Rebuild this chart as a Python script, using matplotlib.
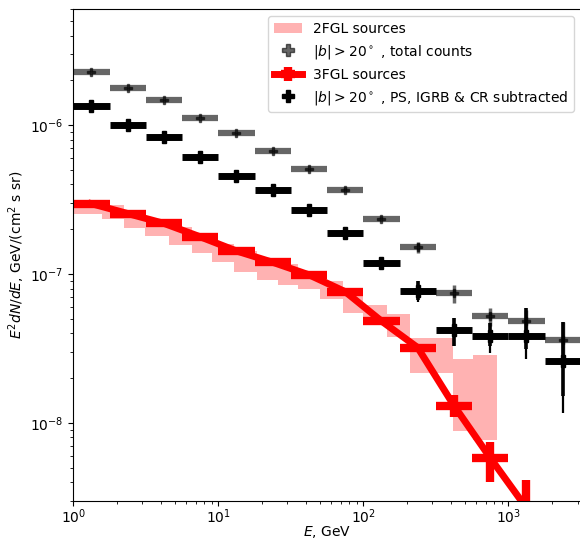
import numpy as np
import matplotlib
matplotlib.use("Agg")
import matplotlib.pyplot as plt

# energy binning of the |b|>20 and 3FGL points (GeV)
e_edges = [1.0, 1.778, 3.162, 5.623, 10.0, 17.78, 31.62, 56.23, 100.0, 177.8, 316.2, 562.3, 1000.0, 1778.0, 3162.0]

# |b| > 20 deg, total counts
tot_val = [2.29e-6, 1.77e-6, 1.47e-6, 1.125e-6, 8.8e-7, 6.74e-7, 5.07e-7, 3.69e-7, 2.36e-7, 1.51e-7, 7.44e-8, 5.19e-8, 4.81e-8, 3.59e-8]
tot_err = [3.0e-8, 2.5e-8, 2.0e-8, 1.6e-8, 1.3e-8, 1.1e-8, 9.0e-9, 8.0e-9, 7.0e-9, 1.2e-8, 1.0e-8, 7.0e-9, 9.0e-9, 1.2e-8]

# |b| > 20 deg, PS, IGRB & CR subtracted
sub_val = [1.34e-6, 1.0e-6, 8.3e-7, 6.1e-7, 4.57e-7, 3.69e-7, 2.71e-7, 1.9e-7, 1.18e-7, 7.74e-8, 4.19e-8, 3.85e-8, 3.85e-8, 2.6e-8]
sub_lo = [4.0e-8, 3.0e-8, 2.5e-8, 2.0e-8, 1.5e-8, 1.2e-8, 9.0e-9, 7.0e-9, 6.0e-9, 1.27e-8, 8.8e-9, 9.2e-9, 1.17e-8, 1.43e-8]
sub_hi = [4.0e-8, 3.0e-8, 2.5e-8, 2.0e-8, 1.5e-8, 1.2e-8, 9.0e-9, 7.0e-9, 6.0e-9, 1.28e-8, 9.0e-9, 8.6e-9, 2.05e-8, 2.19e-8]
sub_lo_stat = [4.0e-8, 3.0e-8, 2.5e-8, 2.0e-8, 1.5e-8, 1.2e-8, 9.0e-9, 7.0e-9, 6.0e-9, 1.0e-8, 8.8e-9, 5.4e-9, 6.9e-9, 1.09e-8]

# 3FGL sources
fgl3_val = [2.97e-7, 2.55e-7, 2.19e-7, 1.78e-7, 1.43e-7, 1.20e-7, 9.89e-8, 7.62e-8, 4.84e-8, 3.21e-8, 1.31e-8, 5.84e-9, 2.69e-9]
fgl3_lo = [6e-9, 5e-9, 4e-9, 4e-9, 3e-9, 3e-9, 3e-9, 2e-9, 2e-9, 1.5e-9, 2.2e-9, 1.8e-9, 1.4e-9]
fgl3_hi = [6e-9, 5e-9, 4e-9, 4e-9, 3e-9, 3e-9, 3e-9, 2e-9, 2e-9, 1.5e-9, 2.2e-9, 1.63e-9, 1.43e-9]

# 2FGL sources band (its own binning)
fgl2_edges = [1.0, 1.578, 2.239, 3.119, 4.571, 6.592, 9.057, 12.82, 18.49, 25.82, 35.48, 50.23, 72.44, 99.54, 145.5, 209.9, 297.8, 415.0, 570.2, 835.6]
fgl2_lo = [2.55e-7, 2.33e-7, 2.05e-7, 1.80e-7, 1.56e-7, 1.38e-7, 1.20e-7, 1.03e-7, 9.16e-8, 8.45e-8, 7.94e-8, 6.81e-8, 5.47e-8, 4.64e-8, 3.79e-8, 2.15e-8, 2.15e-8, 8.8e-9, 7.7e-9]
fgl2_hi = [3.02e-7, 2.93e-7, 2.63e-7, 2.36e-7, 2.06e-7, 1.76e-7, 1.58e-7, 1.42e-7, 1.26e-7, 1.17e-7, 1.05e-7, 8.98e-8, 7.70e-8, 6.21e-8, 5.41e-8, 3.74e-8, 3.74e-8, 2.67e-8, 2.88e-8]

edges = np.array(e_edges)
ec = np.sqrt(edges[:-1] * edges[1:])
xerr = [ec - edges[:-1], edges[1:] - ec]

fig = plt.figure(figsize=(5.8, 5.4), dpi=100)
ax = fig.add_axes([0.1264, 0.0725, 0.875, 0.9103])

# 2FGL band
lo2 = list(fgl2_lo) + [fgl2_lo[-1]]
hi2 = list(fgl2_hi) + [fgl2_hi[-1]]
ax.fill_between(fgl2_edges, lo2, hi2, step='post', color='red', alpha=0.3,
                lw=0, label='2FGL sources', zorder=1)

# 3FGL
n3 = len(fgl3_val)
ax.errorbar(ec[:n3], fgl3_val, xerr=[xerr[0][:n3], xerr[1][:n3]],
            yerr=[fgl3_lo, fgl3_hi], fmt='-', color='red', lw=5,
            elinewidth=6, label='3FGL sources', zorder=2)

# total counts (grey)
ax.errorbar(ec, tot_val, xerr=xerr, fmt='none', ecolor='black',
            elinewidth=4.5, alpha=0.6, zorder=3)
ax.errorbar(ec, tot_val, yerr=tot_err, fmt='P', color='black', ms=6,
            elinewidth=2.5, alpha=0.6, zorder=3)
ax.plot([], [], 'P', color='black', alpha=0.6, ms=8,
        label=r'$|b| > 20^\circ$ , total counts')

# subtracted (black)
ax.errorbar(ec, sub_val, xerr=xerr, fmt='none', ecolor='black',
            elinewidth=5, zorder=4)
ax.errorbar(ec, sub_val, yerr=[sub_lo, sub_hi], fmt='none', ecolor='black',
            elinewidth=1.6, zorder=4)
ax.errorbar(ec, sub_val, yerr=[sub_lo_stat, sub_hi], fmt='P', color='black',
            ms=8.5, elinewidth=2.6, zorder=4)
ax.plot([], [], 'P', color='black', ms=9,
        label=r'$|b| > 20^\circ$ , PS, IGRB & CR subtracted')

ax.set_xscale('log')
ax.set_yscale('log')
ax.set_xlim(1, 3162)
ax.set_ylim(3e-9, 6e-6)
ax.tick_params(axis='x', which='major', pad=1.5)
ax.set_xlabel(r'$E$, GeV', labelpad=-2)
ax.set_ylabel(r'$E^2 dN/dE$, GeV/(cm$^2$ s sr)', labelpad=2)

h, l = ax.get_legend_handles_labels()
order = ['2FGL sources', r'$|b| > 20^\circ$ , total counts', '3FGL sources',
         r'$|b| > 20^\circ$ , PS, IGRB & CR subtracted']
hh = [h[l.index(o)] for o in order]
ax.legend(hh, order, loc='upper right')

fig.savefig('out.png', dpi=100)
